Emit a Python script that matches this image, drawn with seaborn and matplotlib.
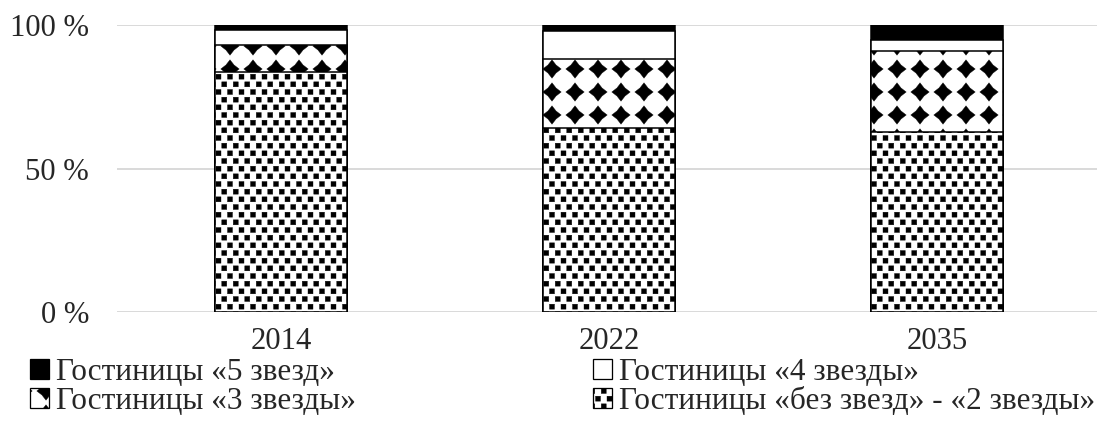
import numpy as np
import pandas as pd
import matplotlib
matplotlib.use('Agg')
import matplotlib.pyplot as plt
import matplotlib.hatch as mhatch
from matplotlib.path import Path
from matplotlib.patches import Patch
import seaborn as sns

years = ['2014', '2022', '2035']
no_star_2 = [83.5, 64.0, 62.6]
three_star = [9.5, 24.0, 28.4]
four_star = [5.2, 10.0, 3.8]
five_star = [1.8, 2.0, 5.2]

labels = ['Гостиницы «5 звезд»', 'Гостиницы «4 звезды»',
          'Гостиницы «3 звезды»', 'Гостиницы «без звезд» - «2 звезды»']


# custom fill patterns (Excel-like): diamonds grid and confetti squares
class Tiles(mhatch.HatchPatternBase):
    filled = True
    char = ''
    cols = rows = 1
    stagger = False
    shape = None

    def __init__(self, hatch, density):
        self.points = []
        if self.char in hatch:
            for r in range(self.rows + 1):
                shift = 0.5 / self.cols if (self.stagger and r % 2) else 0.0
                for c in range(-1, self.cols + 2):
                    self.points.append((c / self.cols + shift, r / self.rows))
        self.num_vertices = len(self.points) * len(self.shape.vertices)

    def set_vertices_and_codes(self, vertices, codes):
        k = len(self.shape.vertices)
        for i, (x, y) in enumerate(self.points):
            vertices[i * k:(i + 1) * k] = self.shape.vertices + (x, y)
            codes[i * k:(i + 1) * k] = self.shape.codes


class Diamonds(Tiles):
    char = '*'
    cols = rows = 4
    star = Path.unit_regular_star(4, innerCircle=0.62)
    shape = Path(star.vertices * 0.1, star.codes)


class Confetti(Tiles):
    char = '.'
    cols = 8
    rows = 12
    stagger = True
    sq = np.array([[-1, -1], [1, -1], [1, 1], [-1, 1], [-1, -1]]) * 0.027
    shape = Path(sq, [Path.MOVETO, Path.LINETO, Path.LINETO, Path.LINETO, Path.CLOSEPOLY])


mhatch._hatch_types = [Diamonds, Confetti]

sns.set_style('white')
plt.rcParams['font.family'] = ['Liberation Serif', 'DejaVu Serif']
plt.rcParams['hatch.linewidth'] = 0.3

dpi = 92
fig = plt.figure(figsize=(1097 / dpi, 436 / dpi), dpi=dpi)
ax = fig.add_axes([117 / 1097, 124 / 436, 984 / 1097, 287 / 436])

df = pd.DataFrame({'year': years, 'base': no_star_2, 'three': three_star,
                   'four': four_star, 'five': five_star})
df['c3'] = df['base'] + df['three']
df['c4'] = df['c3'] + df['four']
df['c5'] = df['c4'] + df['five']

bar_kw = dict(width=0.4, edgecolor='black', linewidth=1.2, saturation=1,
              errorbar=None, ax=ax)
sns.barplot(data=df, x='year', y='c5', color='black', **bar_kw)
sns.barplot(data=df, x='year', y='c4', color='white', **bar_kw)
sns.barplot(data=df, x='year', y='c3', color='white', hatch='*', **bar_kw)
sns.barplot(data=df, x='year', y='base', color='white', hatch='.', **bar_kw)

ax.set_ylim(0, 100)
ax.set_yticks([0, 50, 100])
ax.set_yticklabels(['0 %', '50 %', '100 %'])
ax.set_xlabel('')
ax.set_ylabel('')
ax.yaxis.grid(True, color='#d9d9d9', linewidth=1.5)
ax.set_axisbelow(True)
for s in ax.spines.values():
    s.set_visible(False)
ax.tick_params(axis='y', length=0, labelsize=24, pad=22)
ax.tick_params(axis='x', length=0, labelsize=24, pad=12)

handles = [
    Patch(facecolor='black', edgecolor='black'),
    Patch(facecolor='white', edgecolor='black'),
    Patch(facecolor='white', edgecolor='black', hatch='*'),
    Patch(facecolor='white', edgecolor='black', hatch='.'),
]
order = [0, 2, 1, 3]
fig.legend([handles[i] for i in order], [labels[i] for i in order], ncol=2,
           loc='upper left', bbox_to_anchor=(30 / 1097, 0.178), frameon=False,
           fontsize=24.5, handlelength=0.6, handleheight=0.6, handletextpad=0.22,
           columnspacing=7.6, labelspacing=0.0, borderpad=0, borderaxespad=0)

fig.savefig('out.png', dpi=dpi)
